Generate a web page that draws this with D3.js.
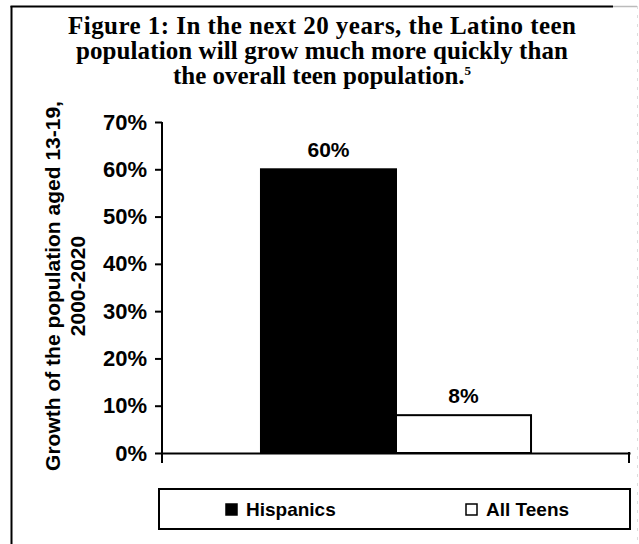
<!DOCTYPE html>
<html>
<head>
<meta charset="utf-8">
<script src="https://cdn.jsdelivr.net/npm/d3@7"></script>
<style>
  html, body { margin: 0; padding: 0; background: #fff; }
  svg { display: block; }
</style>
</head>
<body>
<svg id="chart" width="639" height="544"></svg>
<script>
// ---- data ----
const categories = ["2000-2020"];
const seriesNames = ["Hispanics", "All Teens"];
const seriesValues = [60, 8];
const seriesColors = ["#000000", "#ffffff"];
const yTicks = [0, 10, 20, 30, 40, 50, 60, 70];
const titleLines = ["Figure 1: In the next 20 years, the Latino teen",
                    "population will grow much more quickly than",
                    "the overall teen population."];
const titleSup = "5";
const yLabelLines = ["Growth of the population aged 13-19,", "2000-2020"];

// ---- layout ----
const svg = d3.select("#chart");
const plot = { left: 162, right: 630, top: 122, bottom: 453 };

// outer frame
svg.append("line").attr("x1", 11.5).attr("x2", 11.5).attr("y1", 6).attr("y2", 544)
  .attr("stroke", "#000").attr("stroke-width", 2);
svg.append("line").attr("x1", 10.5).attr("x2", 613).attr("y1", 6.5).attr("y2", 6.5)
  .attr("stroke", "#000").attr("stroke-width", 2);
svg.append("line").attr("x1", 613).attr("x2", 637).attr("y1", 6.5).attr("y2", 6.5)
  .attr("stroke", "#bbb").attr("stroke-width", 1.5);
svg.append("line").attr("x1", 637.5).attr("x2", 637.5).attr("y1", 6).attr("y2", 544)
  .attr("stroke", "#ddd").attr("stroke-width", 1).attr("stroke-dasharray", "3,6");

// title
const title = svg.append("g")
  .attr("font-family", "'Liberation Serif', 'Times New Roman', serif")
  .attr("font-weight", "bold").attr("font-size", 25).attr("fill", "#000")
  .attr("text-anchor", "middle");
const titleY = [34, 59, 84];
const titleWidths = [508, 492, null];
titleLines.forEach((t, i) => {
  const tx = title.append("text").attr("x", 322).attr("y", titleY[i]).text(t);
  if (titleWidths[i]) tx.attr("textLength", titleWidths[i]).attr("lengthAdjust", "spacing");
  if (i === titleLines.length - 1) {
    tx.append("tspan").attr("font-size", 13).attr("dy", -9).text(titleSup);
  }
});

// scales
const x0 = d3.scaleBand().domain(categories).range([plot.left, plot.right]).padding(0);
const x1 = d3.scaleBand().domain(seriesNames).range([0, x0.bandwidth()])
  .paddingInner(0).paddingOuter(0.733);
const y = d3.scaleLinear().domain([0, 70]).range([plot.bottom, plot.top]);

// bars
const g = svg.append("g");
g.selectAll("rect.bar").data(seriesNames).join("rect")
  .attr("class", "bar")
  .attr("x", (d) => x0(categories[0]) + x1(d))
  .attr("y", (d, i) => y(seriesValues[i]))
  .attr("width", x1.bandwidth())
  .attr("height", (d, i) => y(0) - y(seriesValues[i]))
  .attr("fill", (d, i) => seriesColors[i])
  .attr("stroke", "#000").attr("stroke-width", 2);

// data labels
g.selectAll("text.lbl").data(seriesNames).join("text")
  .attr("class", "lbl")
  .attr("x", (d) => x0(categories[0]) + x1(d) + x1.bandwidth() / 2)
  .attr("y", (d, i) => y(seriesValues[i]) - 12)
  .attr("text-anchor", "middle")
  .attr("font-family", "'Liberation Sans', Arial, sans-serif")
  .attr("font-weight", "bold").attr("font-size", 21)
  .text((d, i) => seriesValues[i] + "%");

// y axis
const yAxis = d3.axisLeft(y).tickValues(yTicks).tickSize(7).tickPadding(8)
  .tickFormat((d) => d + "%");
const ya = svg.append("g").attr("transform", `translate(${plot.left},0)`).call(yAxis);
ya.select(".domain").remove();
ya.append("line").attr("x1", 0).attr("x2", 0).attr("y1", plot.top).attr("y2", plot.bottom + 10)
  .attr("stroke", "#000").attr("stroke-width", 2);
ya.selectAll(".tick line").attr("stroke", "#000").attr("stroke-width", 2);
ya.selectAll(".tick text")
  .attr("font-family", "'Liberation Sans', Arial, sans-serif")
  .attr("font-weight", "bold").attr("font-size", 22).attr("fill", "#000");

// x axis
const xAxis = d3.axisBottom(x0).tickValues([]).tickSizeOuter(0);
const xa = svg.append("g").attr("transform", `translate(0,${plot.bottom})`).call(xAxis);
xa.select(".domain").attr("stroke", "#000").attr("stroke-width", 2);
xa.append("line").attr("x1", plot.right - 1).attr("x2", plot.right - 1)
  .attr("y1", -1).attr("y2", 10).attr("stroke", "#000").attr("stroke-width", 2);

// y-axis title
const yl = svg.append("text")
  .attr("transform", "translate(0,286) rotate(-90)")
  .attr("text-anchor", "middle")
  .attr("font-family", "'Liberation Sans', Arial, sans-serif")
  .attr("font-weight", "bold").attr("font-size", 21).attr("fill", "#000");
const ylX = [60, 85];
yLabelLines.forEach((t, i) => {
  yl.append("tspan").attr("x", 0).attr("y", ylX[i]).text(t);
});

// legend
const legend = svg.append("g");
legend.append("rect").attr("x", 159).attr("y", 489).attr("width", 471).attr("height", 40)
  .attr("fill", "#fff").attr("stroke", "#000").attr("stroke-width", 2);
const legendX = [226, 466];
const li = legend.selectAll("g.item").data(seriesNames).join("g")
  .attr("class", "item")
  .attr("transform", (d, i) => `translate(${legendX[i]},504)`);
li.append("rect").attr("x", 0).attr("y", 0).attr("width", 11).attr("height", 11)
  .attr("fill", (d, i) => seriesColors[i]).attr("stroke", "#000").attr("stroke-width", 1.5);
li.append("text").attr("x", 20).attr("y", 12)
  .attr("font-family", "'Liberation Sans', Arial, sans-serif")
  .attr("font-weight", "bold").attr("font-size", 19).text((d) => d);
</script>
</body>
</html>
